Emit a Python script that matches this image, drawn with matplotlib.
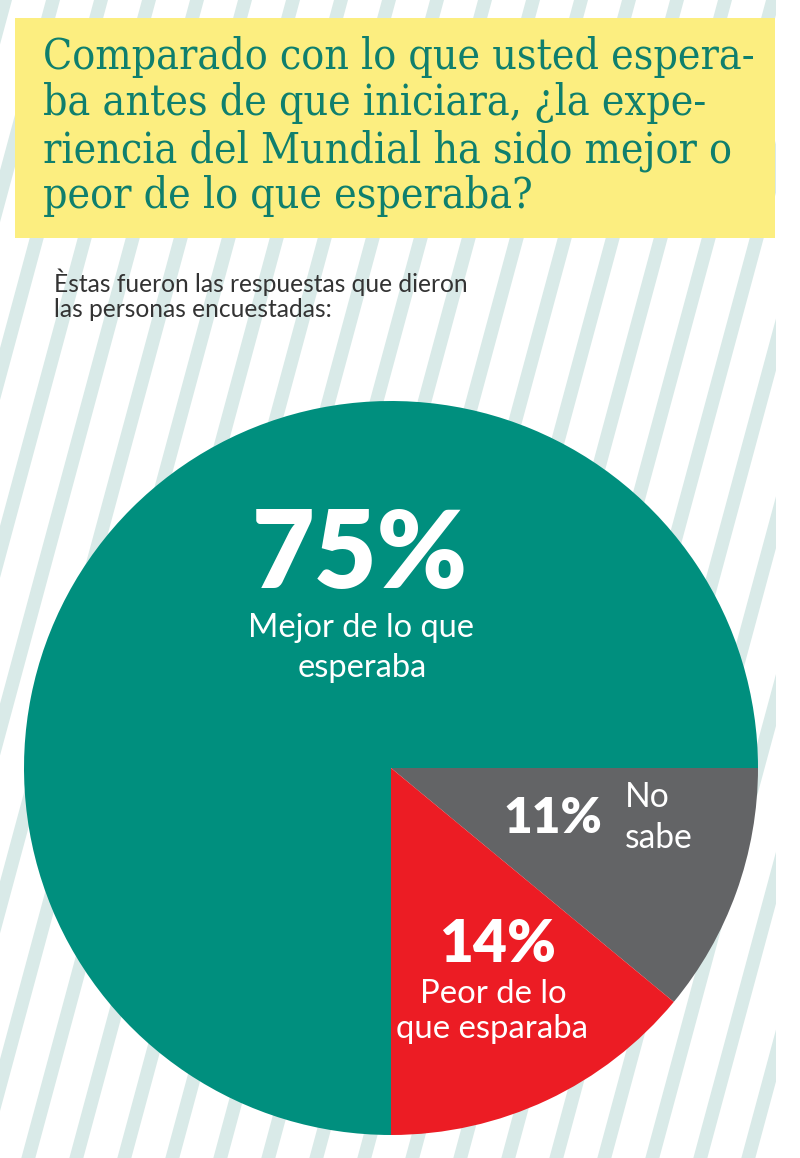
import matplotlib

matplotlib.use("Agg")
import matplotlib.pyplot as plt
from matplotlib.patches import Polygon, Rectangle

W, H = 800, 1158

# survey answers, drawn clockwise from 3 o'clock
answers = ["No sabe", "Peor de lo que esparaba", "Mejor de lo que esperaba"]
shares = [11, 14, 75]
slice_colors = ["#636466", "#ec1c24", "#008f7e"]
label_lines = [["No", "sabe"], ["Peor de lo", "que esparaba"], ["Mejor de lo que", "esperaba"]]

title_lines = [
    "Comparado con lo que usted espera-",
    "ba antes de que iniciara, ¿la expe-",
    "riencia del Mundial ha sido mejor o",
    "peor de lo que esperaba?",
]
subtitle_lines = ["Èstas fueron las respuestas que dieron", "las personas encuestadas:"]

TEAL_TXT = "#0f7f6d"
YELLOW = "#fcee80"
STRIPE = "#d9eae8"
SANS = ["Lato", "DejaVu Sans"]

fig = plt.figure(figsize=(W / 100, H / 100), dpi=100)
ax = fig.add_axes([0, 0, 1, 1])
renderer = fig.canvas.get_renderer()


def py(y):
    # image rows (top-down) -> data y (bottom-up)
    return H - y


def put(x, y, s, width, ha="left", size=None, **kw):
    """Place text on a baseline; scale it to the wanted pixel width unless size given."""
    t = ax.text(x, py(y), s, ha=ha, va="baseline", fontsize=size or 20, zorder=5, **kw)
    if size is None:
        w = t.get_window_extent(renderer).width
        t.set_fontsize(20 * width / w)
    return t


# diagonal stripes in the background
slope, gap, sw = 0.27, 48.0, 14.0
for k in range(-2, 26):
    x0 = 46 + k * gap
    ax.add_patch(Polygon([(x0, H), (x0 + sw, H), (x0 + sw - slope * H, 0), (x0 - slope * H, 0)],
                         closed=True, color=STRIPE, lw=0, zorder=0))
ax.add_patch(Rectangle((776, 0), W - 776, H, color="white", lw=0, zorder=0.5))

# title box
ax.add_patch(Rectangle((15, py(238)), 760, 220, color=YELLOW, lw=0, zorder=2))
t1 = put(43, 69, title_lines[0], 712, family="DejaVu Serif", stretch="condensed", color=TEAL_TXT)
tsize = t1.get_fontsize()
for line, base in zip(title_lines[1:], [115, 162, 208]):
    put(43, base, line, None, size=tsize, family="DejaVu Serif", stretch="condensed",
        color=TEAL_TXT)

s1 = put(54, 292, subtitle_lines[0], 416, family=SANS, color="#333333")
put(54, 317, subtitle_lines[1], None, size=s1.get_fontsize(), family=SANS, color="#333333")

# pie
ax.pie(shares, colors=slice_colors, startangle=0, counterclock=False,
       center=(391, py(768)), radius=367, wedgeprops=dict(linewidth=0))
ax.set_xlim(0, W)
ax.set_ylim(0, H)
ax.set_aspect("auto")
ax.axis("off")

pct = [f"{v}%" for v in shares]
bold = dict(family=SANS, weight="heavy", color="white")
reg = dict(family=SANS, color="white")

# 75% - Mejor
put(360, 588, pct[2], 216, ha="center", **bold)
m1 = put(361, 637, label_lines[2][0], 227, ha="center", **reg)
put(362, 677, label_lines[2][1], None, ha="center", size=m1.get_fontsize(), **reg)

# 14% - Peor
put(498, 962, pct[1], 117, ha="center", **bold)
p1 = put(493, 1003, label_lines[1][0], 147, ha="center", **reg)
put(492, 1038, label_lines[1][1], None, ha="center", size=p1.get_fontsize(), **reg)

# 11% - No sabe
put(503, 833, pct[0], 99, **bold)
n2 = put(625, 848, label_lines[0][1], 68, **reg)
put(625, 807, label_lines[0][0], None, size=n2.get_fontsize(), **reg)

fig.savefig("out.png", dpi=100, facecolor="white")
